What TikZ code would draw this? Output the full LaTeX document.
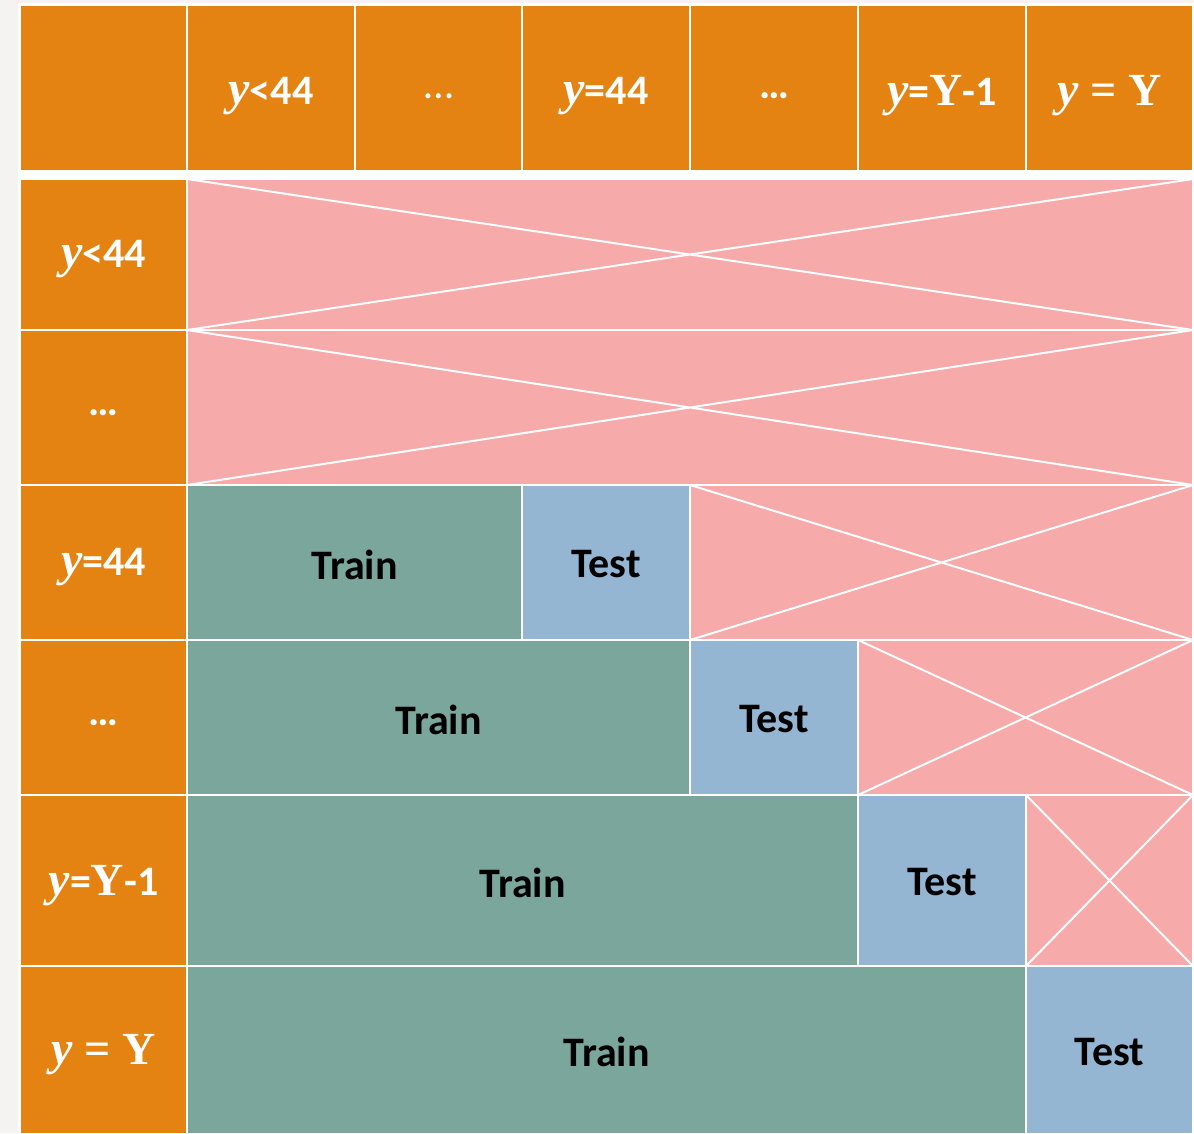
\documentclass[tikz,border=0pt]{standalone}
\usepackage{fontspec}
\setmainfont{Carlito}
\newfontfamily\yfont{Liberation Serif}
\definecolor{hdr}{HTML}{E48212}
\definecolor{pnk}{HTML}{F6AAAA}
\definecolor{grn}{HTML}{7BA69B}
\definecolor{blu}{HTML}{95B6D3}
\definecolor{bgc}{HTML}{F4F3F1}
\newcommand\yv{{\yfont\fontsize{48}{52}\selectfont\bfseries\itshape y}}
\newcommand\yY{{\yfont\fontsize{46}{52}\selectfont\bfseries Y}}
\newcommand\yeq{{\yfont\fontsize{46}{52}\selectfont =}}
\newcommand\lo[2]{\raisebox{-#1pt}[\height][\depth]{#2}}
\newcommand\mkcell[7]{\node[#2, minimum width={#5-#3}, minimum height={#6-#4}] (#1) at ({(#3+#5)/2},{(#4+#6)/2}) {#7};}
\begin{document}
\begin{tikzpicture}[x=1pt,y=-1pt,
  cell/.style={rectangle, draw=white, line width=2pt, inner sep=0pt, outer sep=0pt,
    font=\fontsize{42}{48}\selectfont\bfseries},
  hcell/.style={cell, fill=hdr, text=white},
  xcell/.style={cell, fill=pnk},
  trcell/.style={cell, fill=grn, text=black},
  tecell/.style={cell, fill=blu, text=black},
  xl/.style={draw=white, line width=2pt}]
\useasboundingbox (0,0) rectangle (1194,1133);
\fill[bgc] (0,0) rectangle (1194,1133);
\fill[white] (18,3) rectangle (1194,1133);
% header row
\mkcell{h0}{hcell}{20}{5}{187}{171}{}
\mkcell{h1}{hcell}{187}{5}{355}{171}{\lo{8}{\yv<44}}
\mkcell{h2}{hcell}{355}{5}{522}{171}{\lo{8}{\mdseries …}}
\mkcell{h3}{hcell}{522}{5}{690}{171}{\lo{8}{\yv=44}}
\mkcell{h4}{hcell}{690}{5}{858}{171}{\lo{8}{…}}
\mkcell{h5}{hcell}{858}{5}{1026}{171}{\lo{8}{\yv=\yY-1}}
\mkcell{h6}{hcell}{1026}{5}{1193}{171}{\lo{8}{\yv\;\yeq\;\yY}}
% row headers
\mkcell{r1}{hcell}{20}{179}{187}{330}{\lo{5}{\yv<44}}
\mkcell{r2}{hcell}{20}{330}{187}{485}{\lo{5}{…}}
\mkcell{r3}{hcell}{20}{485}{187}{640}{\lo{5}{\yv=44}}
\mkcell{r4}{hcell}{20}{640}{187}{795}{\lo{5}{…}}
\mkcell{r5}{hcell}{20}{795}{187}{966}{\lo{5}{\yv=\yY-1}}
\mkcell{r6}{hcell}{20}{966}{187}{1134}{\lo{5}{\yv\;\yeq\;\yY}}
% row 1, 2
\mkcell{x1}{xcell}{187}{179}{1193}{330}{}
\mkcell{x2}{xcell}{187}{330}{1193}{485}{}
% row 3
\mkcell{t3}{trcell}{187}{485}{522}{640}{\lo{2}{Train}}
\mkcell{e3}{tecell}{522}{485}{690}{640}{\lo{2}{Test}}
\mkcell{x3}{xcell}{690}{485}{1193}{640}{}
% row 4
\mkcell{t4}{trcell}{187}{640}{690}{795}{\lo{2}{Train}}
\mkcell{e4}{tecell}{690}{640}{858}{795}{\lo{2}{Test}}
\mkcell{x4}{xcell}{858}{640}{1193}{795}{}
% row 5
\mkcell{t5}{trcell}{187}{795}{858}{966}{\lo{2}{Train}}
\mkcell{e5}{tecell}{858}{795}{1026}{966}{\lo{2}{Test}}
\mkcell{x5}{xcell}{1026}{795}{1193}{966}{}
% row 6
\mkcell{t6}{trcell}{187}{966}{1026}{1134}{\lo{2}{Train}}
\mkcell{e6}{tecell}{1026}{966}{1193}{1134}{\lo{2}{Test}}
% crosses
\foreach \n in {x1,x2,x3,x4,x5}{
  \draw[xl] (\n.north west) -- (\n.south east) (\n.south west) -- (\n.north east);
}
\end{tikzpicture}
\end{document}
